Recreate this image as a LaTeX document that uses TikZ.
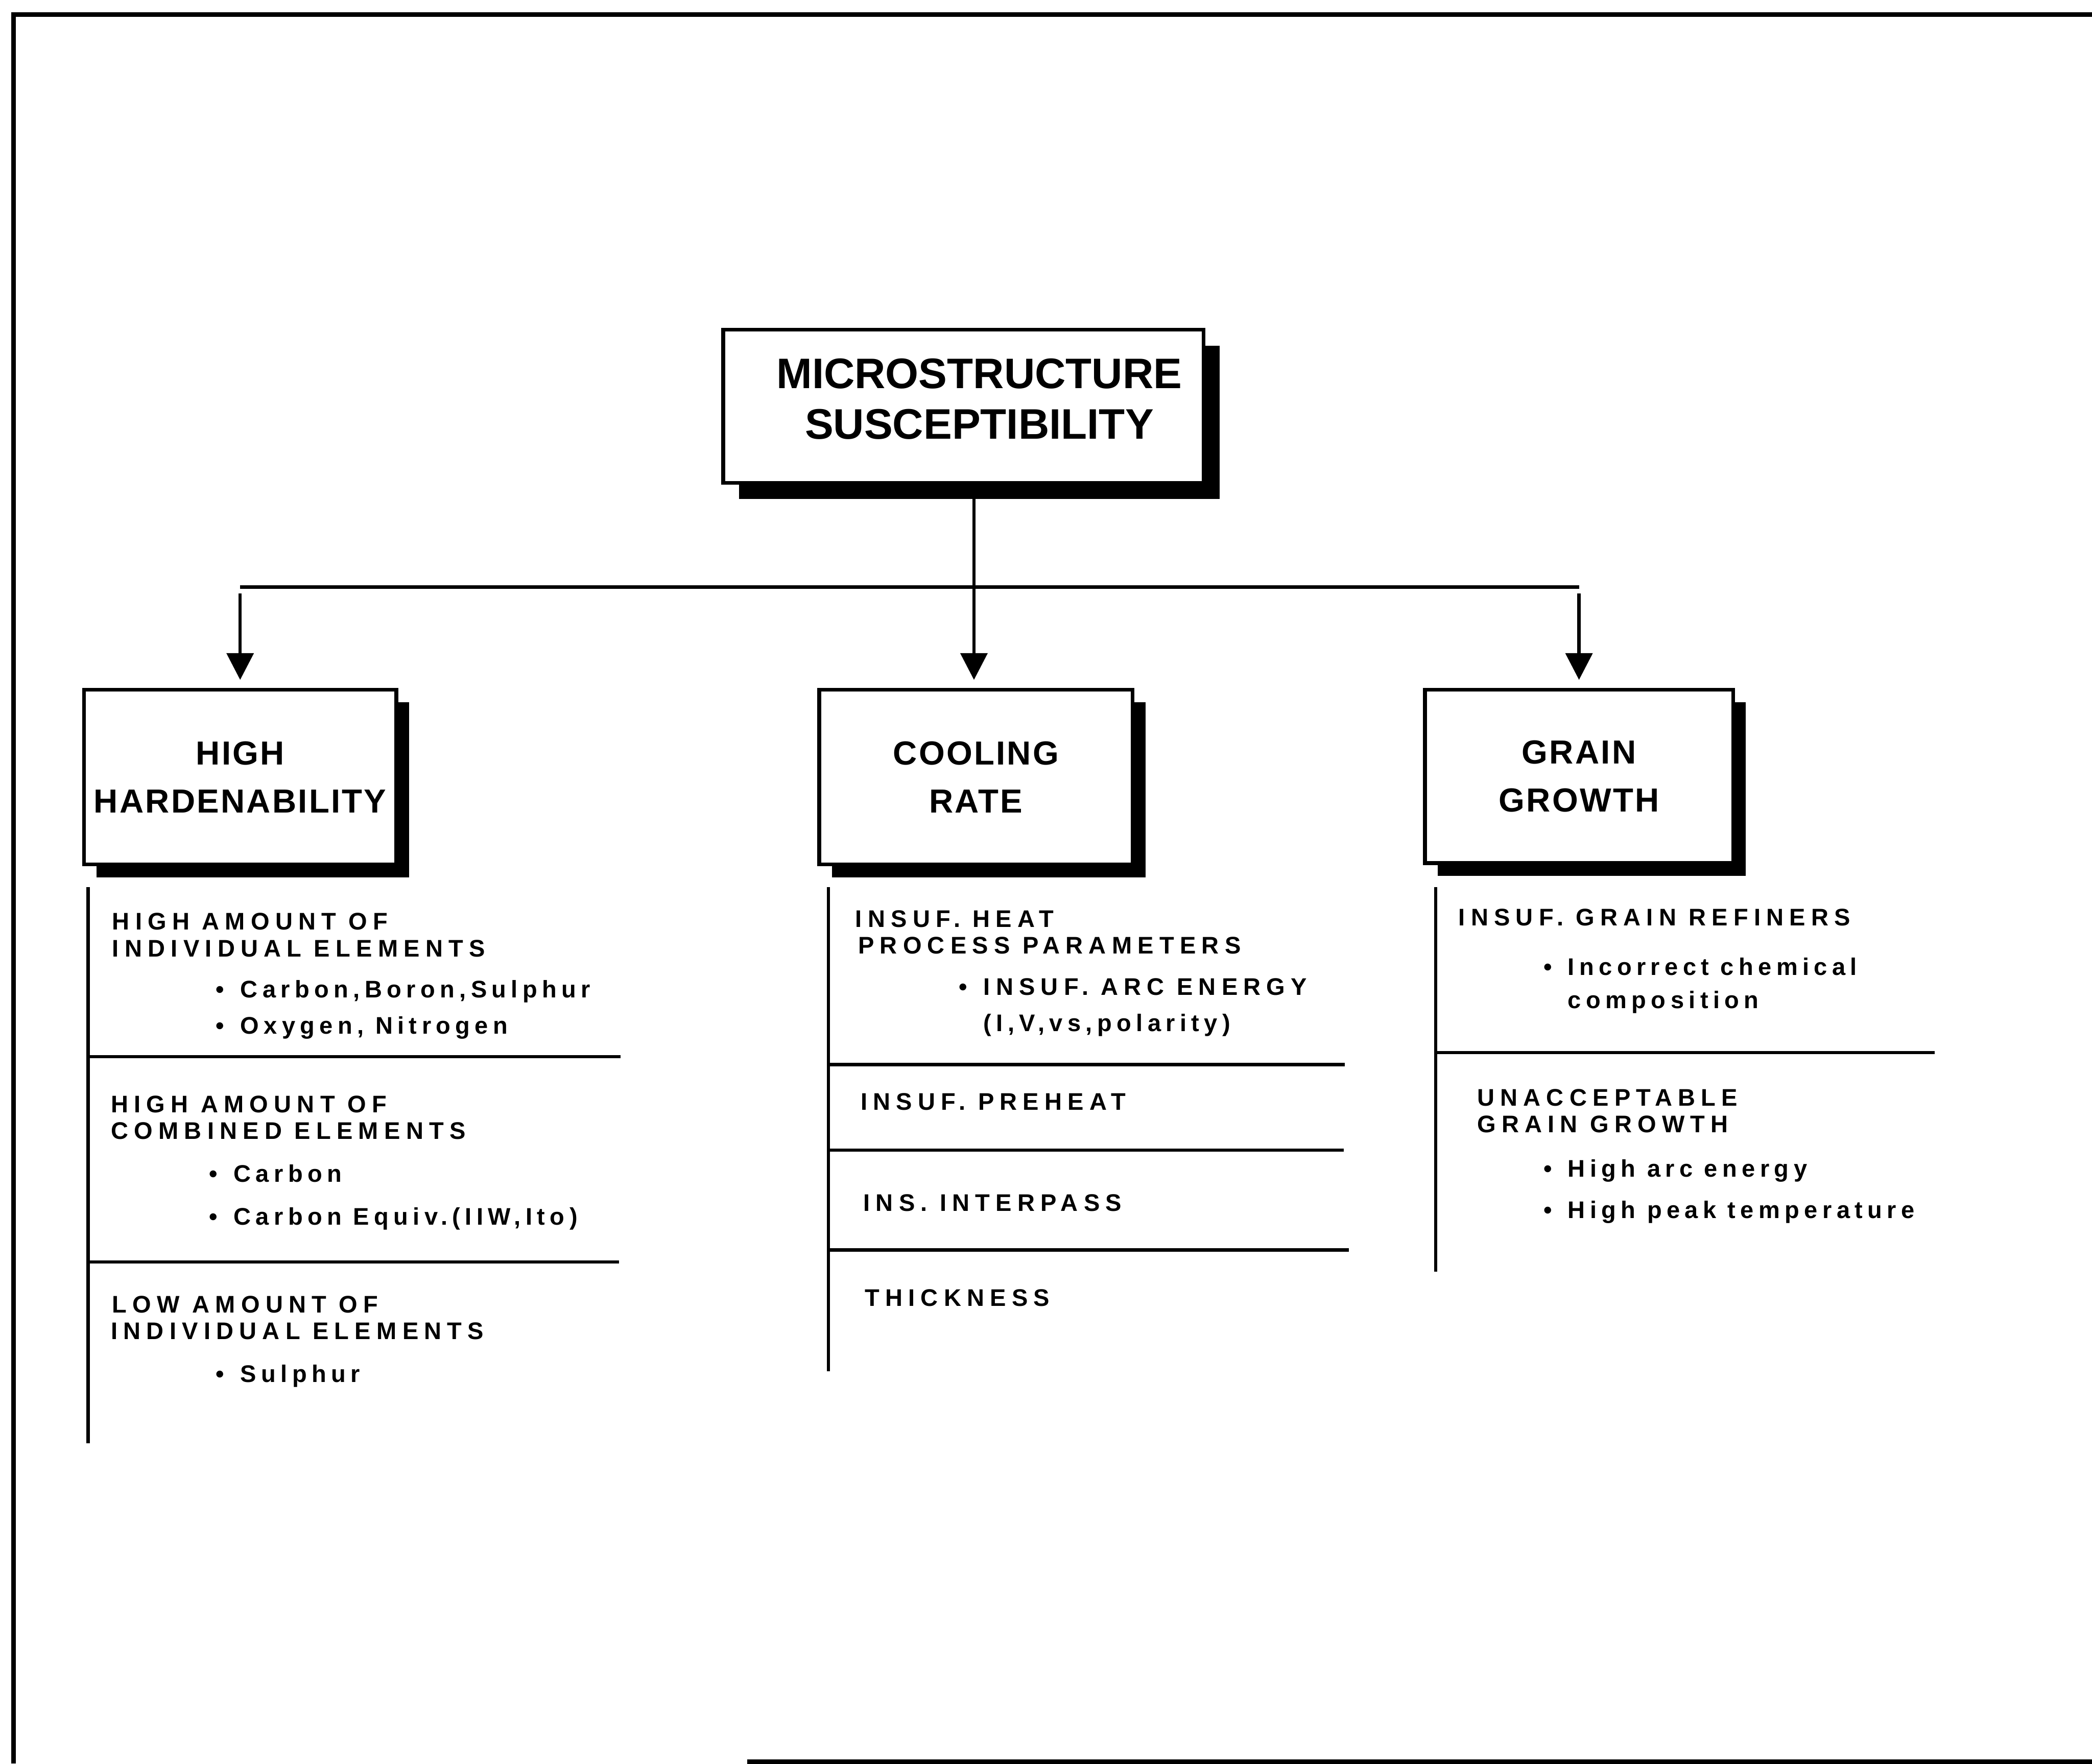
\documentclass[tikz,border=0pt]{standalone}
\usepackage{fontspec}
\setmainfont{Liberation Sans}
\newfontfamily\headfont[LetterSpace=5]{Liberation Sans}
\newfontfamily\listfont[LetterSpace=24]{Liberation Sans}
\newfontfamily\notefont[LetterSpace=20]{Liberation Sans}
\usetikzlibrary{arrows.meta, positioning, shadows}

\newcommand{\bul}{\makebox[0pt][r]{\textbullet\hspace{12pt}}}

\tikzset{
  card/.style={rectangle, draw, line width=2.8pt, fill=white, align=center,
    drop shadow={shadow xshift=#1, shadow yshift=-#1, fill=black, opacity=1},
    font=\headfont\bfseries\fontsize{25}{36}\selectfont},
  card/.default=9.5pt,
  item/.style={anchor=base west, inner sep=0pt, font=\listfont\bfseries\fontsize{18}{21}\selectfont},
  note/.style={anchor=base west, inner sep=0pt, font=\notefont\bfseries\fontsize{18}{21}\selectfont},
  rule/.style={line width=2.5pt},
  feed/.style={line width=2.5pt, -{Triangle[width=20pt,length=20pt]}, shorten >=6pt}
}

\begin{document}
\begin{tikzpicture}[x=1pt, y=-1pt]
\useasboundingbox (0,0) rectangle (1568,1322);

% page frame
\draw[line width=3.5pt] (10,1322) -- (10,11) -- (1568,11);
\draw[line width=3.5pt] (560,1320.5) -- (1568,1320.5);

% main box
\node[card=12pt, minimum width=360pt, minimum height=115pt] (top) at (722,304.5) {};
\node[align=center, font=\bfseries\fontsize{32}{38}\selectfont] (toplbl) at (734,299)
  {MICROSTRUCTURE\\SUSCEPTIBILITY};

% three causes
\node[card, minimum width=234pt, minimum height=131pt] (hard) at (180,582.5) {HIGH\\HARDENABILITY};
\node[card, minimum width=235pt, minimum height=131pt] (cool) at (731.5,582.5) {COOLING\\RATE};
\node[card, minimum width=231pt, minimum height=130pt] (grain) at (1183.5,582) {GRAIN\\GROWTH};

% connectors
\coordinate (bus) at (730,440);
\draw[rule] (top.south -| bus) -- (bus);
\draw[rule] (hard.north |- bus) -- (grain.north |- bus);
\draw[feed, shorten <=5pt] (hard.north |- bus) -- (hard.north);
\draw[feed] (bus) -- (bus |- cool.north);
\draw[feed, shorten <=5pt] (grain.north |- bus) -- (grain.north);

% list under high hardenability
\draw[rule] (66,665) -- (66,1082);
\draw[rule] (66,792) -- (465,792);
\draw[rule] (66,946) -- (464,946);
\node[item] (h1a) at (84,697) {HIGH AMOUNT OF};
\node[item] (h1b) at (84,717) {INDIVIDUAL ELEMENTS};
\node[note] (h1c) at (180,748) {\bul Carbon,Boron,Sulphur};
\node[note] (h1d) at (180,775) {\bul Oxygen, Nitrogen};
\node[item] (h2a) at (83,834) {HIGH AMOUNT OF};
\node[item] (h2b) at (83,854) {COMBINED ELEMENTS};
\node[note] (h2c) at (175,886) {\bul Carbon};
\node[note] (h2d) at (175,918) {\bul Carbon Equiv.(IIW,Ito)};
\node[item] (h3a) at (84,984) {LOW AMOUNT OF};
\node[item] (h3b) at (83,1004) {INDIVIDUAL ELEMENTS};
\node[note] (h3c) at (180,1036) {\bul Sulphur};

% list under cooling rate
\draw[rule] (621,665) -- (621,1028);
\draw[rule] (621,798) -- (1008,798);
\draw[rule] (621,862) -- (1007,862);
\draw[rule] (621,937) -- (1011,937);
\node[item] (c1a) at (641,695) {INSUF. HEAT};
\node[item] (c1b) at (643,715) {PROCESS PARAMETERS};
\node[item] (c1c) at (737,746) {\bul INSUF. ARC ENERGY};
\node[note] (c1d) at (737,773) {(I,V,vs,polarity)};
\node[item] (c2) at (645,832) {INSUF. PREHEAT};
\node[item] (c3) at (647,908) {INS. INTERPASS};
\node[item] (c4) at (648,979) {THICKNESS};

% list under grain growth
\draw[rule] (1076,665) -- (1076,953);
\draw[rule] (1076,789) -- (1450,789);
\node[item] (g1a) at (1093,694) {INSUF. GRAIN REFINERS};
\node[note] (g1b) at (1175,731) {\bul Incorrect chemical};
\node[note] (g1c) at (1175,756) {composition};
\node[item] (g2a) at (1107,829) {UNACCEPTABLE};
\node[item] (g2b) at (1107,849) {GRAIN GROWTH};
\node[note] (g2c) at (1175,882) {\bul High arc energy};
\node[note] (g2d) at (1175,913) {\bul High peak temperature};
\end{tikzpicture}
\end{document}
